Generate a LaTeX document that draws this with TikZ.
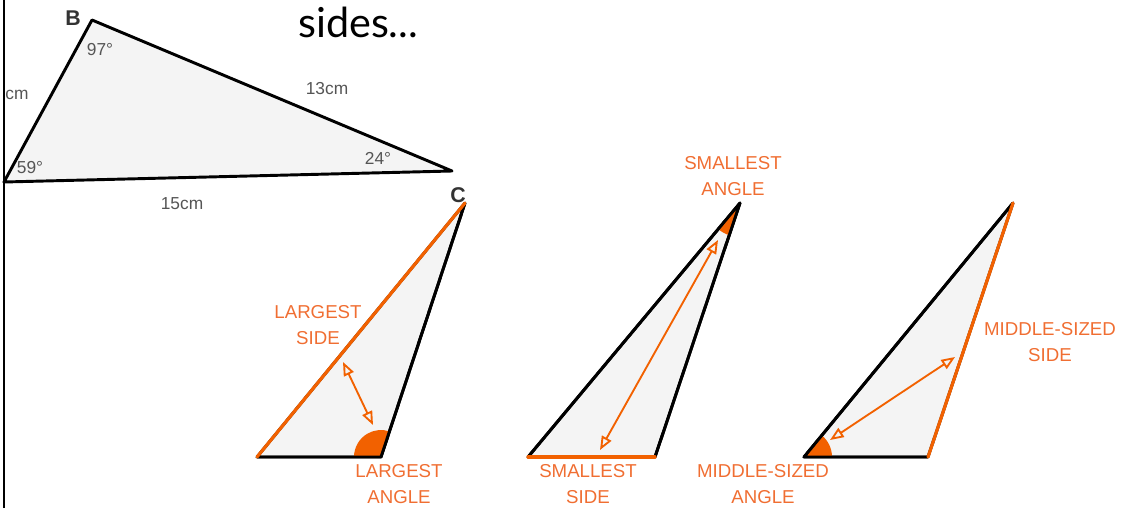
\documentclass[tikz,border=0pt]{standalone}
\usepackage{fontspec}
\setmainfont{Liberation Sans}
\newfontfamily\titlefont{Lato}
\usepackage{xcolor}
\definecolor{MarkOrange} {RGB}{242, 97,   0}
\definecolor{LabelOrange}{RGB}{240, 110,  50}
\definecolor{PaleGray}   {RGB}{244, 244, 244}
\definecolor{TextGray}   {RGB}{85,  85,  85}
\usepackage{tikz}
\usetikzlibrary{arrows.meta}

\begin{document}
\begin{tikzpicture}[
  x=0.75pt, y=0.75pt,
  tri/.style={
    fill=PaleGray, draw=black,
    line width=2.2pt, line join=round},
  longside/.style={
    draw=MarkOrange, line width=2.4pt,
    line cap=round},
  wedge/.style={fill=MarkOrange},
  span/.style={
    {Triangle[open, length=3.6mm, width=2.8mm]}-{Triangle[open, length=3.6mm, width=2.8mm]},
    draw=MarkOrange, line width=1.4pt},
  tag/.style={
    font=\fontsize{14}{20}\selectfont,
    text=LabelOrange, align=center, inner sep=0pt},
  measure/.style={
    font=\fontsize{13}{15}\selectfont,
    text=TextGray, inner sep=0pt},
  corner/.style={
    font=\fontsize{16}{18}\selectfont\bfseries,
    text=black!80, inner sep=0pt}
]
\useasboundingbox (0,0) rectangle (1126,508);
\clip (0,0) rectangle (1126,508);

\draw[line width=2pt] (4,0) -- (4,508);

\node[font=\titlefont\fontsize{31}{34}\selectfont,
  anchor=base west, inner sep=0pt] (title) at (298,470) {sides...};

\coordinate (A) at (4,326);
\coordinate (B) at (92,488);
\coordinate (C) at (452,337);
\draw[tri] (A) -- (B) -- (C) -- cycle;

\node[corner] (nb) at (73,490) {B};
\node[corner] (nc) at (458,313) {C};
\node[measure] (angB) at (100,458) {97°};
\node[measure] (angA) at (30,340) {59°};
\node[measure] (angC) at (378,350) {24°};
\node[measure] (ab) at (17,413) {cm};
\node[measure] (bc) at (327,419) {13cm};
\node[measure] (ac) at (182,304) {15cm};

\coordinate (l1) at (257,51);
\coordinate (r1) at (381,51);
\coordinate (t1) at (465,305);
\draw[tri] (l1) -- (r1) -- (t1) -- cycle;
\fill[wedge] (r1) -- ++(180:27) arc[start angle=180, end angle=71.7, radius=27] -- cycle;
\draw[tri, fill=none] (l1) -- (r1) -- (t1);
\draw[longside] (l1) -- (t1);
\coordinate (s1a) at (343,146);
\coordinate (s1b) at (373,83);
\draw[span] (s1a) -- (s1b);
\node[tag] (bigside) at (318,183) {LARGEST\\SIDE};
\node[tag] (bigangle) at (399,24) {LARGEST\\ANGLE};

\coordinate (l2) at (528,51);
\coordinate (r2) at (655,51);
\coordinate (t2) at (740,305);
\draw[tri] (l2) -- (r2) -- (t2) -- cycle;
\fill[wedge] (t2) -- ++(230.1:34) arc[start angle=230.1, end angle=251.5, radius=34] -- cycle;
\draw[tri, fill=none] (r2) -- (t2) -- (l2);
\draw[longside] (l2) -- (r2);
\coordinate (s2a) at (718,268);
\coordinate (s2b) at (600,58);
\draw[span] (s2a) -- (s2b);
\node[tag] (smallangle) at (733,332) {SMALLEST\\ANGLE};
\node[tag] (smallside) at (588,24) {SMALLEST\\SIDE};

\coordinate (l3) at (804,51);
\coordinate (r3) at (928,51);
\coordinate (t3) at (1013,305);
\draw[tri] (l3) -- (r3) -- (t3) -- cycle;
\fill[wedge] (l3) -- ++(0:28) arc[start angle=0, end angle=50.7, radius=28] -- cycle;
\draw[tri, fill=none] (r3) -- (l3) -- (t3);
\draw[longside] (r3) -- (t3);
\coordinate (s3a) at (830,68);
\coordinate (s3b) at (955,151);
\draw[span] (s3a) -- (s3b);
\node[tag] (midangle) at (763,24) {MIDDLE-SIZED\\ANGLE};
\node[tag] (midside) at (1050,166) {MIDDLE-SIZED\\SIDE};
\end{tikzpicture}
\end{document}
